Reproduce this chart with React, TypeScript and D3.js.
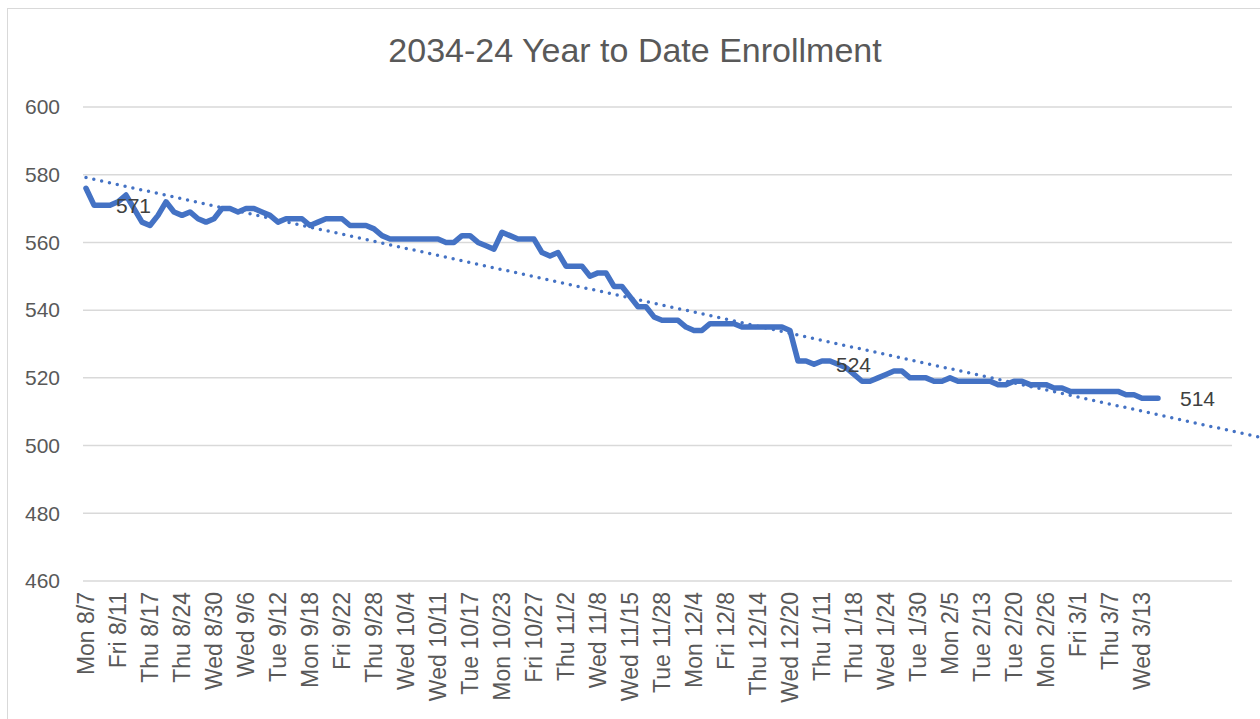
import { useEffect, useRef } from "react";
import * as d3 from "d3";

// enrollment per school day, Mon 8/7 onward
const enrollment = [
  576, 571, 571, 571, 572, 574, 570, 566, 565, 568,
  572, 569, 568, 569, 567, 566, 567, 570, 570, 569,
  570, 570, 569, 568, 566, 567, 567, 567, 565, 566,
  567, 567, 567, 565, 565, 565, 564, 562, 561, 561,
  561, 561, 561, 561, 561, 560, 560, 562, 562, 560,
  559, 558, 563, 562, 561, 561, 561, 557, 556, 557,
  553, 553, 553, 550, 551, 551, 547, 547, 544, 541,
  541, 538, 537, 537, 537, 535, 534, 534, 536, 536,
  536, 536, 535, 535, 535, 535, 535, 535, 534, 525,
  525, 524, 525, 525, 524, 523, 521, 519, 519, 520,
  521, 522, 522, 520, 520, 520, 519, 519, 520, 519,
  519, 519, 519, 519, 518, 518, 519, 519, 518, 518,
  518, 517, 517, 516, 516, 516, 516, 516, 516, 516,
  515, 515, 514, 514, 514,
];

// every 4th school day is labelled
const tickLabels = [
  "Mon 8/7", "Fri 8/11", "Thu 8/17", "Thu 8/24", "Wed 8/30", "Wed 9/6",
  "Tue 9/12", "Mon 9/18", "Fri 9/22", "Thu 9/28", "Wed 10/4", "Wed 10/11",
  "Tue 10/17", "Mon 10/23", "Fri 10/27", "Thu 11/2", "Wed 11/8", "Wed 11/15",
  "Tue 11/28", "Mon 12/4", "Fri 12/8", "Thu 12/14", "Wed 12/20", "Thu 1/11",
  "Thu 1/18", "Wed 1/24", "Tue 1/30", "Mon 2/5", "Tue 2/13", "Tue 2/20",
  "Mon 2/26", "Fri 3/1", "Thu 3/7", "Wed 3/13",
];
const labelEvery = 4;

const yTicks = [460, 480, 500, 520, 540, 560, 580, 600];
const labelledPoints = [1, 91, 134];

const BLUE = "#4472C4";
const FONT = "'Liberation Sans', Arial, sans-serif";

export default function App() {
  const ref = useRef(null);

  useEffect(() => {
    const width = 1260;
    const height = 719;
    const svg = d3.select(ref.current);
    svg.selectAll("*").remove();
    svg.attr("viewBox", `0 0 ${width} ${height}`);

    const left = 83;
    const right = 1232;
    const x = d3.scaleLinear().domain([-0.375, 143.25]).range([left, right]);
    const y = d3.scaleLinear().domain([460, 600]).range([581, 107]);

    svg.append("rect").attr("width", width).attr("height", height).attr("fill", "#fff");
    svg
      .append("rect")
      .attr("x", 7.5)
      .attr("y", 8.5)
      .attr("width", 1300)
      .attr("height", 800)
      .attr("fill", "none")
      .attr("stroke", "#d9d9d9");

    svg
      .append("text")
      .attr("x", 635)
      .attr("y", 62)
      .attr("text-anchor", "middle")
      .attr("font-family", FONT)
      .attr("font-size", 34)
      .attr("fill", "#595959")
      .text("2034-24 Year to Date Enrollment");

    svg
      .selectAll("line.grid")
      .data(yTicks)
      .join("line")
      .attr("class", "grid")
      .attr("x1", left)
      .attr("x2", right)
      .attr("y1", (d) => y(d))
      .attr("y2", (d) => y(d))
      .attr("stroke", "#d9d9d9")
      .attr("stroke-width", 1.5);

    svg
      .selectAll("text.ytick")
      .data(yTicks)
      .join("text")
      .attr("class", "ytick")
      .attr("x", 60)
      .attr("y", (d) => y(d))
      .attr("dy", "0.35em")
      .attr("text-anchor", "end")
      .attr("font-family", FONT)
      .attr("font-size", 21)
      .attr("fill", "#595959")
      .text((d) => d);

    svg
      .selectAll("text.xtick")
      .data(tickLabels)
      .join("text")
      .attr("class", "xtick")
      .attr("transform", (_, i) => `translate(${x(i * labelEvery)},592) rotate(-90)`)
      .attr("dy", "0.36em")
      .attr("text-anchor", "end")
      .attr("font-family", FONT)
      .attr("font-size", 23)
      .attr("fill", "#595959")
      .text((d) => d);

    // linear trendline, forecast past the last day
    const idx = enrollment.map((_, i) => i);
    const mx = d3.mean(idx);
    const my = d3.mean(enrollment);
    const slope =
      d3.sum(idx, (i) => (i - mx) * (enrollment[i] - my)) / d3.sum(idx, (i) => (i - mx) ** 2);
    const intercept = my - slope * mx;
    const trendEnd = x.invert(1258);

    svg
      .append("path")
      .attr("d", d3.line()([[x(0), y(intercept)], [x(trendEnd), y(intercept + slope * trendEnd)]]))
      .attr("fill", "none")
      .attr("stroke", BLUE)
      .attr("stroke-width", 3.5)
      .attr("stroke-linecap", "round")
      .attr("stroke-dasharray", "0 8");

    const line = d3
      .line()
      .x((_, i) => x(i))
      .y((d) => y(d));

    svg
      .append("path")
      .datum(enrollment)
      .attr("d", line)
      .attr("fill", "none")
      .attr("stroke", BLUE)
      .attr("stroke-width", 5.5)
      .attr("stroke-linejoin", "round")
      .attr("stroke-linecap", "round");

    svg
      .selectAll("text.dlabel")
      .data(labelledPoints)
      .join("text")
      .attr("class", "dlabel")
      .attr("x", (i) => x(i) + 22)
      .attr("y", (i) => y(enrollment[i]))
      .attr("dy", "0.36em")
      .attr("font-family", FONT)
      .attr("font-size", 21)
      .attr("fill", "#404040")
      .text((i) => enrollment[i]);
  }, []);

  return (
    <svg
      ref={ref}
      width={1260}
      height={719}
      style={{ position: "absolute", left: 0, top: 0, display: "block" }}
    />
  );
}
